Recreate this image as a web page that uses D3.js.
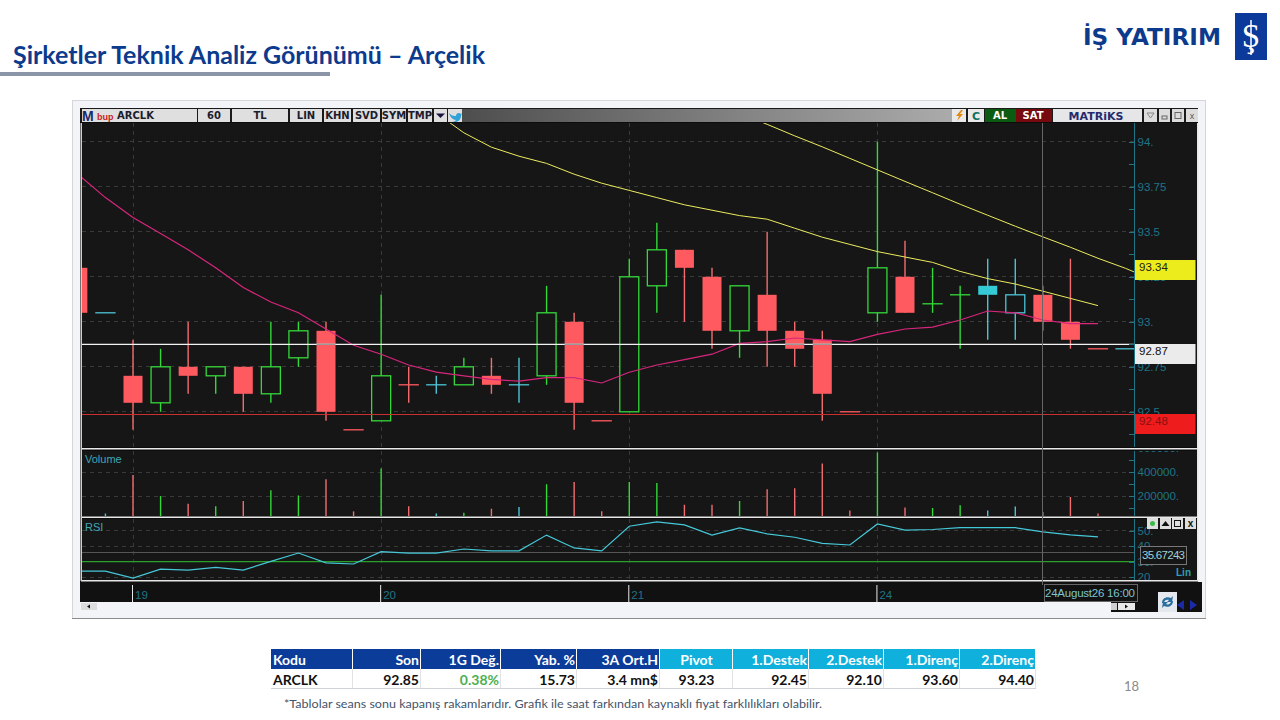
<!DOCTYPE html>
<html>
<head>
<meta charset="utf-8">
<script src="https://d3js.org/d3.v7.min.js"></script>
<style>
  html, body { margin: 0; padding: 0; background: #fff; }
  svg { display: block; }
  text { font-family: "Liberation Sans", sans-serif; }
  .slide { font-family: Lato, sans-serif; }
  .axis path { display: none; }
  .axis line { stroke: #1f7486; shape-rendering: crispEdges; }
  .axis text { fill: #1f7486; font: 11.5px "Liberation Sans", sans-serif; }
  .grid { stroke: #3a3a3a; stroke-width: 1; stroke-dasharray: 4 4; shape-rendering: crispEdges; }
  .wick, .vol { stroke-width: 1.4; }
  .tool { font: bold 10px "DejaVu Sans", sans-serif; fill: #1c1c2c; text-anchor: middle; }
</style>
</head>
<body>
<script>
// bar index, -2 and -1 belong to the previous session
var bars = d3.range(-2, 37);
var kinds = ['r','c','r','g','r','g','r','g','g','r','r','g','r','c','g','r','c','g','r','r','g','g','r','r','g','r','r','r','r','g','r','g','g','cf','c','r','r','r','c'];
var opens = [93.3,93.05,92.7,92.55,92.75,92.7,92.75,92.6,92.8,92.95,92.4,92.45,92.65,92.65,92.65,92.7,92.65,92.7,93,92.45,92.5,93.2,93.4,93.25,92.95,93.15,92.95,92.9,92.5,93.05,93.25,93.1,93.15,93.15,93.05,93.15,93,92.85,92.85];
var closes = [93.05,93.05,92.55,92.75,92.7,92.75,92.6,92.75,92.95,92.5,92.4,92.7,92.65,92.65,92.75,92.65,92.65,93.05,92.55,92.45,93.25,93.4,93.3,92.95,93.2,92.95,92.85,92.6,92.5,93.3,93.05,93.1,93.15,93.2,93.15,93,92.9,92.85,92.85];
var highs = [93.3,93.05,92.9,92.85,93,92.75,92.75,93,93,93,92.4,93.15,92.75,92.7,92.8,92.8,92.8,93.2,93.05,92.45,93.35,93.55,93.4,93.3,93.2,93.5,93,92.95,92.5,94,93.45,93.3,93.2,93.35,93.35,93.2,93.35,92.85,92.85];
var lows = [93.05,93.05,92.4,92.5,92.6,92.6,92.5,92.55,92.75,92.45,92.4,92.45,92.55,92.6,92.65,92.6,92.55,92.65,92.4,92.45,92.5,93.05,93,92.85,92.8,92.75,92.75,92.45,92.5,93,93.05,93.05,92.85,92.9,92.9,92.95,92.85,92.85,92.85];
var volumes = [0,54000,375000,200000,135000,115000,158000,247000,205000,340000,72000,430000,115000,55000,60000,93000,108000,297000,317000,72000,317000,308000,128000,128000,158000,256000,264000,470000,80000,563000,105000,100000,122000,80000,113000,67000,192000,54000,0];
var rsi = [23.8,23.8,19.3,25.1,24.5,26.2,24.5,30.1,35.5,29.1,28.4,36.4,35.5,35.5,38.1,36.9,36.9,47.1,38.8,36.9,52.8,55.7,53.7,47.1,51.7,47.9,45.7,41.8,40.7,54.3,50.3,50.7,51.9,51.9,51.9,49.2,47.2,45.9];
var maPink = [93.82,93.69,93.58,93.49,93.4,93.3,93.19,93.11,93.05,92.96,92.87,92.82,92.76,92.72,92.7,92.68,92.67,92.69,92.69,92.66,92.72,92.76,92.79,92.82,92.88,92.89,92.91,92.9,92.89,92.93,92.96,92.97,93.01,93.06,93.05,93.01,92.99,92.99];
var maYellow1 = [94.16,94.05,93.97,93.92,93.88,93.82,93.77,93.73,93.69,93.65,93.62,93.59,93.57,93.52,93.47,93.43,93.39,93.36,93.33,93.28,93.24,93.21,93.17,93.13,93.09];
var maYellow1Start = 11;
var maYellow2 = [94.158,94.097,94.033,93.972,93.908,93.844,93.78,93.717,93.653,93.592,93.531,93.472,93.414,93.353,93.297,93.233];
var maYellow2Start = 22;

var dayBars = [0, 9, 18, 27];
var dayLabels = ['19', '20', '21', '24'];
var priceTicks = [94, 93.75, 93.5, 93.25, 93, 92.75, 92.5];
var priceLabels = ['94.', '93.75', '93.5', '93.25', '93.', '92.75', '92.5'];
var priceMinor = [93.875, 93.625, 93.375, 93.125, 92.875, 92.625, 92.375];
var volumeTicks = [600000, 400000, 200000];
var volumeMinor = [500000, 300000, 100000];
var rsiTicks = [50, 40, 30, 20];
var lastPrices = [93.34, 92.87, 92.48];
var whiteLevel = 92.875, redLevel = 92.485, rsiLevel = 35.67243, rsiFloor = 30;
var crossBar = 33;

var tableHead = ['Kodu', 'Son', '1G Değ.', 'Yab. %', '3A Ort.H', 'Pivot', '1.Destek', '2.Destek', '1.Direnç', '2.Direnç'];
var tableRow = ['ARCLK', '92.85', '0.38%', '15.73', '3.4 mn$', '93.23', '92.45', '92.10', '93.60', '94.40'];
var tableEdges = [271, 353, 421, 501, 577, 660, 733, 809, 884, 960, 1036];

var colors = { r: '#ff5a60', g: '#35d83a', c: '#4cc4d6', cf: '#35cbd6' };
var wickColors = { r: '#f26d70', g: '#35d83a', c: '#4cc4d6', cf: '#4cc4d6' };

var svg = d3.select('body').append('svg').attr('width', 1280).attr('height', 720);

// slide header
svg.append('text').attr('class', 'slide').attr('x', 13).attr('y', 64)
  .attr('font-size', 24.5).attr('font-weight', 700).attr('fill', '#0c3a8c')
  .attr('textLength', 472).attr('lengthAdjust', 'spacingAndGlyphs')
  .text('Şirketler Teknik Analiz Görünümü – Arçelik');
svg.append('rect').attr('x', 0).attr('y', 72).attr('width', 330).attr('height', 4).attr('fill', '#8a95a8');

// logo
svg.append('text').attr('x', 1083).attr('y', 45).attr('font-size', 23).attr('font-weight', 700)
  .attr('fill', '#0c3a8c').style('font-family', '"DejaVu Sans", sans-serif')
  .attr('textLength', 138).attr('lengthAdjust', 'spacingAndGlyphs').text('İŞ YATIRIM');
svg.append('rect').attr('x', 1235).attr('y', 13).attr('width', 32).attr('height', 47).attr('fill', '#0c3a9a');
svg.append('text').attr('x', 1251).attr('y', 47).attr('text-anchor', 'middle')
  .attr('font-size', 33).attr('fill', '#fff').style('font-family', '"Liberation Serif", serif').text('Ş');
svg.append('line').attr('x1', 1251).attr('x2', 1251).attr('y1', 20).attr('y2', 55).attr('stroke', '#fff').attr('stroke-width', 1.5);

// program window
svg.append('rect').attr('x', 72.5).attr('y', 100.5).attr('width', 1133).attr('height', 518)
  .attr('fill', '#f3f4f7').attr('stroke', '#d4d6da');
svg.append('line').attr('x1', 72).attr('x2', 1206).attr('y1', 618.5).attr('y2', 618.5).attr('stroke', '#8c8c8c');
svg.append('rect').attr('x', 80).attr('y', 108).attr('width', 1118).attr('height', 16).attr('fill', '#1a1a1a');
var toolGrad = svg.append('defs').append('linearGradient').attr('id', 'toolbar');
toolGrad.append('stop').attr('offset', '0%').attr('stop-color', '#4e4e4e');
toolGrad.append('stop').attr('offset', '100%').attr('stop-color', '#ababab');
svg.append('rect').attr('x', 462).attr('y', 109).attr('width', 490).attr('height', 13).attr('fill', 'url(#toolbar)');

var toolCells = [[82, 115, ''], [115, 197, ''], [198, 230, '60'], [232, 288, 'TL'], [290, 322, 'LIN'], [324, 351, 'KHN'], [353, 380, 'SVD'], [382, 406, 'SYM'], [408, 432, 'TMP'], [434, 447, ''], [448, 462, '']];
toolCells.forEach(function(c) {
  svg.append('rect').attr('x', c[0]).attr('y', 109).attr('width', c[1] - c[0]).attr('height', 13).attr('fill', '#dfdfdf');
  svg.append('text').attr('class', 'tool').attr('x', (c[0] + c[1]) / 2).attr('y', 119).text(c[2]);
});
svg.append('text').attr('x', 82).attr('y', 120.5).attr('font-size', 14).attr('font-weight', 700).attr('fill', '#1a2a6c').text('M');
svg.append('text').attr('x', 97).attr('y', 119.5).attr('font-size', 9).attr('font-weight', 700).attr('fill', '#c22').text('bup');
svg.append('text').attr('class', 'tool').attr('x', 117).attr('y', 119).style('text-anchor', 'start').text('ARCLK');
svg.append('path').attr('d', 'M436,113.5h9l-4.5,4.5z').attr('fill', '#151540');
svg.append('path').attr('d', 'M449,113c3,3 5,3 7,3c0,-3 3,-4 5,-2l1,-1l-1,3c0,4 -4,7 -9,6c2,0 3,-1 4,-2c-3,0 -6,-3 -7,-7z').attr('fill', '#2fa3d8');

var rightCells = [[952, 966, '#e9e9e9'], [968, 984, '#e9e9e9'], [985, 1016, '#0b5c12'], [1016, 1052, '#760a0e'], [1053, 1142, '#e6e6e8'], [1144, 1157, '#dcdcdc'], [1159, 1170, '#dcdcdc'], [1172, 1184, '#dcdcdc'], [1186, 1198, '#dcdcdc']];
rightCells.forEach(function(c) {
  svg.append('rect').attr('x', c[0]).attr('y', 109).attr('width', c[1] - c[0]).attr('height', 13).attr('fill', c[2]);
});
svg.append('path').attr('d', 'M961,110l-5,6h3l-2,5l6,-7h-3l3,-4z').attr('fill', '#e08a10');
svg.append('text').attr('class', 'tool').attr('x', 976).attr('y', 120).style('fill', '#0f7060').style('font-size', '11px').text('C');
svg.append('text').attr('class', 'tool').attr('x', 1000).attr('y', 119).style('fill', '#fff').text('AL');
svg.append('text').attr('class', 'tool').attr('x', 1033).attr('y', 119).style('fill', '#fff').text('SAT');
svg.append('text').attr('class', 'tool').attr('x', 1096).attr('y', 119.5).style('fill', '#232a6e').style('font-size', '11px').text('MATRiKS');
svg.append('path').attr('d', 'M1147,113h7l-3.5,5z').attr('fill', 'none').attr('stroke', '#888');
svg.append('rect').attr('x', 1162).attr('y', 116).attr('width', 5).attr('height', 3).attr('fill', 'none').attr('stroke', '#666');
svg.append('rect').attr('x', 1175).attr('y', 112.5).attr('width', 6).attr('height', 6).attr('fill', 'none').attr('stroke', '#666');
svg.append('text').attr('x', 1192).attr('y', 119).attr('text-anchor', 'middle').attr('font-size', 9).attr('fill', '#555').text('x');

// panels
var left = 82, right = 1197, axisX = 1134.5;
var panels = { price: [123, 447], volume: [451, 516], rsi: [519, 580] };
var panelKeys = Object.keys(panels);
svg.append('rect').attr('x', 80).attr('y', 122).attr('width', 1118).attr('height', 460).attr('fill', '#0c0c0c');
panelKeys.forEach(function(key) {
  var p = panels[key];
  svg.append('rect').attr('x', left).attr('y', p[0]).attr('width', right - left).attr('height', p[1] - p[0]).attr('fill', '#161616');
  svg.append('clipPath').attr('id', 'clip-' + key).append('rect')
    .attr('x', left).attr('y', p[0]).attr('width', axisX - left).attr('height', p[1] - p[0]);
});
svg.append('rect').attr('x', 81).attr('y', 448).attr('width', 1117).attr('height', 1.5).attr('fill', '#e8e8e8');
svg.append('rect').attr('x', 81).attr('y', 516.5).attr('width', 1117).attr('height', 1.5).attr('fill', '#e8e8e8');
svg.append('rect').attr('x', 81).attr('y', 580).attr('width', 1117).attr('height', 1.5).attr('fill', '#e8e8e8');
svg.append('rect').attr('x', 80.5).attr('y', 123).attr('width', 1.5).attr('height', 458).attr('fill', '#cfcfcf');
svg.append('rect').attr('x', 1197).attr('y', 123).attr('width', 1.5).attr('height', 458).attr('fill', '#e8e8e8');

var x = d3.scaleLinear().domain([0, 35]).range([133, 1098]);
var y = d3.scaleLinear().domain([92.5, 94]).range([411.8, 141.8]);
var yVol = d3.scaleLinear().domain([0, 400000]).range([520, 472]);
var yRsi = d3.scaleLinear().domain([20, 50]).range([577, 530.6]);

var pricePlot = svg.append('g').attr('clip-path', 'url(#clip-price)');
var volumePlot = svg.append('g').attr('clip-path', 'url(#clip-volume)');
var rsiPlot = svg.append('g').attr('clip-path', 'url(#clip-rsi)');

// grids
function grid(plot, scale, ticks, panel) {
  plot.selectAll('.h').data(ticks).enter().append('line').attr('class', 'grid h')
    .attr('x1', left).attr('x2', axisX)
    .attr('y1', function(d) { return scale(d); }).attr('y2', function(d) { return scale(d); });
  plot.selectAll('.v').data(dayBars).enter().append('line').attr('class', 'grid v')
    .attr('x1', function(d) { return x(d); }).attr('x2', function(d) { return x(d); })
    .attr('y1', panel[0]).attr('y2', panel[1]);
}
grid(pricePlot, y, priceTicks, panels.price);
grid(volumePlot, yVol, [400000, 200000], panels.volume);
grid(rsiPlot, yRsi, [50, 40, 20], panels.rsi);

// candles
var halfBody = 9.5;
var candles = bars.map(function(b, i) {
  return { bar: b, kind: kinds[i], open: opens[i], close: closes[i], high: highs[i], low: lows[i] };
});
pricePlot.selectAll('.wick').data(candles).enter().append('line').attr('class', 'wick')
  .attr('x1', function(d) { return x(d.bar); }).attr('x2', function(d) { return x(d.bar); })
  .attr('y1', function(d) { return y(d.high); }).attr('y2', function(d) { return y(d.low); })
  .attr('stroke', function(d) { return wickColors[d.kind]; });
pricePlot.selectAll('.body').data(candles).enter().append('rect').attr('class', 'body')
  .attr('x', function(d) { return x(d.bar) - halfBody; })
  .attr('width', halfBody * 2)
  .attr('y', function(d) { return y(Math.max(d.open, d.close)); })
  .attr('height', function(d) { return Math.max(0.01, Math.abs(y(d.open) - y(d.close))); })
  .attr('fill', function(d) { return d.kind == 'g' || d.kind == 'c' ? '#161616' : colors[d.kind]; })
  .attr('stroke', function(d) { return colors[d.kind]; })
  .attr('stroke-width', function(d) { return d.kind == 'g' || d.kind == 'c' || d.open == d.close ? 1.3 : 0; });

// moving averages
function maLine(scaleY, start) {
  return d3.line().x(function(d, i) { return x(start + i); }).y(function(d) { return scaleY(d); });
}
pricePlot.append('path').datum(maPink).attr('d', maLine(y, -2)).attr('fill', 'none').attr('stroke', '#d8267c').attr('stroke-width', 1.2);
pricePlot.append('path').datum(maYellow1).attr('d', maLine(y, maYellow1Start)).attr('fill', 'none').attr('stroke', '#ecec60').attr('stroke-width', 1);
pricePlot.append('path').datum(maYellow2).attr('d', maLine(y, maYellow2Start)).attr('fill', 'none').attr('stroke', '#ecec60').attr('stroke-width', 1);

// price levels
pricePlot.append('line').attr('x1', left).attr('x2', axisX).attr('y1', y(whiteLevel)).attr('y2', y(whiteLevel)).attr('stroke', '#f2f2f2').attr('stroke-width', 1.3);
pricePlot.append('line').attr('x1', left).attr('x2', axisX).attr('y1', y(redLevel)).attr('y2', y(redLevel)).attr('stroke', '#c83030').attr('stroke-width', 1.2);
// red bodies turn the white level grey where they cross it
pricePlot.selectAll('.cross').data(candles.filter(function(d) {
  return d.kind == 'r' && d.open > whiteLevel && d.close < whiteLevel;
})).enter().append('line').attr('class', 'cross')
  .attr('x1', function(d) { return x(d.bar) - halfBody; }).attr('x2', function(d) { return x(d.bar) + halfBody; })
  .attr('y1', y(whiteLevel)).attr('y2', y(whiteLevel)).attr('stroke', '#9a9a9a').attr('stroke-width', 1.5);

// volume
volumePlot.selectAll('.vol').data(candles).enter().append('line').attr('class', 'vol')
  .attr('x1', function(d) { return x(d.bar); }).attr('x2', function(d) { return x(d.bar); })
  .attr('y1', function(d, i) { return yVol(volumes[i]); }).attr('y2', yVol(0))
  .attr('stroke', function(d, i) { return volumes[i] ? wickColors[d.kind] : 'none'; });

// rsi
rsiPlot.append('line').attr('x1', left).attr('x2', axisX).attr('y1', yRsi(rsiLevel)).attr('y2', yRsi(rsiLevel)).attr('stroke', '#555').style('shape-rendering', 'crispEdges');
rsiPlot.append('line').attr('x1', left).attr('x2', axisX).attr('y1', yRsi(rsiFloor)).attr('y2', yRsi(rsiFloor)).attr('stroke', '#2aa02a').attr('stroke-width', 1.2);
rsiPlot.append('path').datum(rsi).attr('d', maLine(yRsi, -2)).attr('fill', 'none').attr('stroke', '#45c8d8').attr('stroke-width', 1.2);

svg.append('text').attr('x', 85).attr('y', 463).attr('font-size', 11).attr('fill', '#3fa6b4').text('Volume');
svg.append('text').attr('x', 85).attr('y', 531).attr('font-size', 11).attr('fill', '#3fa6b4').text('RSI');

// axes
function labelAxis(scale, ticks, format, panelKey) {
  return svg.append('g').attr('class', 'axis').attr('transform', 'translate(' + axisX + ',0)')
    .attr('clip-path', 'url(#axis-' + panelKey + ')')
    .call(d3.axisRight(scale).tickValues(ticks).tickSizeInner(-6).tickSizeOuter(0).tickPadding(3).tickFormat(format));
}
panelKeys.forEach(function(key) {
  var p = panels[key];
  svg.append('clipPath').attr('id', 'axis-' + key).append('rect')
    .attr('x', -10).attr('y', p[0]).attr('width', 70).attr('height', p[1] - p[0]);
  svg.append('line').attr('x1', axisX).attr('x2', axisX).attr('y1', p[0]).attr('y2', p[1]).attr('stroke', '#1f7486');
});
labelAxis(y, priceTicks, function(d) { return priceLabels[priceTicks.indexOf(d)]; }, 'price');
labelAxis(y, priceMinor, function() { return ''; }, 'price');
labelAxis(yVol, volumeTicks, function(d) { return d + '.'; }, 'volume');
labelAxis(yVol, volumeMinor, function() { return ''; }, 'volume');
labelAxis(yRsi, rsiTicks, function(d) { return d + '.'; }, 'rsi');

// last price boxes
var boxFill = ['#ecec1c', '#ebebeb', '#ee1c1c'];
var boxText = ['#222', '#111', '#8a1010'];
var boxTop = [260, 344, 414];
svg.selectAll('.lastBox').data(lastPrices).enter().append('rect').attr('class', 'lastBox')
  .attr('x', axisX + 0.5).attr('width', 60.5).attr('height', 20)
  .attr('y', function(d, i) { return boxTop[i]; })
  .attr('fill', function(d, i) { return boxFill[i]; });
svg.selectAll('.lastText').data(lastPrices).enter().append('text').attr('class', 'lastText')
  .attr('x', 1139).attr('y', function(d, i) { return boxTop[i] + 11; })
  .attr('font-size', 11.5).attr('fill', function(d, i) { return boxText[i]; })
  .text(function(d) { return d3.format('.2f')(d); });

// rsi value box and panel buttons
svg.append('rect').attr('x', 1140.5).attr('y', 546.5).attr('width', 46).attr('height', 18).attr('fill', '#161616').attr('stroke', '#777');
svg.append('text').attr('x', 1142).attr('y', 559).attr('font-size', 11.5).attr('fill', '#9fd0d8').attr('textLength', 43).text(rsiLevel);
svg.append('text').attr('x', 1176).attr('y', 576).attr('font-size', 10).attr('font-weight', 700).attr('fill', '#2fa0b4').text('Lin');
[1147, 1160, 1172, 1185].forEach(function(bx) {
  svg.append('rect').attr('x', bx).attr('y', 518).attr('width', 11).attr('height', 11).attr('fill', '#dedede');
});
svg.append('circle').attr('cx', 1152.5).attr('cy', 523.5).attr('r', 2.5).attr('fill', '#3cba4a');
svg.append('path').attr('d', 'M1161.5,526l4,-5l4,5z').attr('fill', '#111');
svg.append('rect').attr('x', 1174.5).attr('y', 520.5).attr('width', 6).attr('height', 6).attr('fill', 'none').attr('stroke', '#111');
svg.append('text').attr('x', 1190.5).attr('y', 527).attr('text-anchor', 'middle').attr('font-size', 10).attr('font-weight', 700).attr('fill', '#111').text('x');

// date strip
svg.append('rect').attr('x', 80).attr('y', 582).attr('width', 1122).attr('height', 20).attr('fill', '#111');
svg.append('rect').attr('x', 1111).attr('y', 602).attr('width', 91).attr('height', 10).attr('fill', '#111');
svg.selectAll('.dayTick').data(dayBars).enter().append('line').attr('class', 'dayTick')
  .attr('x1', function(d) { return x(d) - 0.5; }).attr('x2', function(d) { return x(d) - 0.5; })
  .attr('y1', 585).attr('y2', 602).attr('stroke', '#e8e8e8');
svg.selectAll('.dayText').data(dayBars).enter().append('text').attr('class', 'dayText')
  .attr('x', function(d) { return x(d) + 2; }).attr('y', 599).attr('font-size', 11.5).attr('fill', '#1f7486')
  .text(function(d, i) { return dayLabels[i]; });

// crosshair
svg.append('line').attr('x1', x(crossBar)).attr('x2', x(crossBar)).attr('y1', 123).attr('y2', 585).attr('stroke', '#666').attr('stroke-width', 1).style('shape-rendering', 'crispEdges');
svg.append('rect').attr('x', 1044.5).attr('y', 584.5).attr('width', 93).attr('height', 17).attr('fill', '#111').attr('stroke', '#666');
svg.append('text').attr('x', 1045).attr('y', 597).attr('font-size', 11.5).attr('fill', '#7fc4cf').attr('textLength', 90).text('24August26 16:00');

// scroll buttons
svg.append('rect').attr('x', 81).attr('y', 603).attr('width', 16).attr('height', 7).attr('fill', '#dcdcdc');
svg.append('path').attr('d', 'M87,606.5l3,-2v4z').attr('fill', '#111');
svg.append('rect').attr('x', 1111).attr('y', 603).attr('width', 6).attr('height', 7).attr('fill', '#cfcfcf');
svg.append('rect').attr('x', 1118).attr('y', 603).attr('width', 17).attr('height', 7).attr('fill', '#e8e8e8');
svg.append('path').attr('d', 'M1128,606.5l-3,-2v4z').attr('fill', '#111');
svg.append('rect').attr('x', 1158).attr('y', 592).attr('width', 19).attr('height', 20).attr('fill', '#e4e8ee');
svg.append('path').attr('d', 'M1162,603c0,-5 5,-7 9,-5l2,-2l-1,6h-5l2,-2c-2,-1 -5,0 -5,3zM1173,601c0,5 -5,7 -9,5l-2,2l1,-6h5l-2,2c2,1 5,0 5,-3z').attr('fill', '#2a6ea0');
svg.append('path').attr('d', 'M1177,605l7,-5v10zM1197,605l-7,-5v10z').attr('fill', '#1a2aa8');

// table
var tableG = svg.append('g');
tableHead.forEach(function(h, i) {
  var x0 = tableEdges[i], x1 = tableEdges[i + 1];
  var anchor = i == 0 ? 'start' : (i == 5 ? 'middle' : 'end');
  var tx = i == 0 ? x0 + 2 : (i == 5 ? (x0 + x1) / 2 : x1 - 2);
  tableG.append('rect').attr('x', x0).attr('y', 649).attr('width', x1 - x0 - 1).attr('height', 20).attr('fill', i < 5 ? '#0b3c9a' : '#0fb0dc');
  tableG.append('text').attr('class', 'slide').attr('x', tx).attr('y', 665).attr('text-anchor', anchor)
    .attr('font-size', 14).attr('font-weight', 700).attr('fill', '#fff').text(h);
  tableG.append('text').attr('class', 'slide').attr('x', tx).attr('y', 685).attr('text-anchor', anchor)
    .attr('font-size', 14).attr('font-weight', 700).attr('fill', i == 2 ? '#4caf50' : '#111').text(tableRow[i]);
  tableG.append('line').attr('x1', x1 - 0.5).attr('x2', x1 - 0.5).attr('y1', 669).attr('y2', 688).attr('stroke', '#e2e2e2');
});
tableG.append('line').attr('x1', 271).attr('x2', 1036).attr('y1', 688.5).attr('y2', 688.5).attr('stroke', '#cfd2d6');

svg.append('text').attr('class', 'slide').attr('x', 284).attr('y', 708).attr('font-size', 11.5).attr('fill', '#44546a')
  .attr('textLength', 538).attr('lengthAdjust', 'spacingAndGlyphs')
  .text('*Tablolar seans sonu kapanış rakamlarıdır. Grafik ile saat farkından kaynaklı fiyat farklılıkları olabilir.');
svg.append('text').attr('class', 'slide').attr('x', 1124).attr('y', 691).attr('font-size', 13).attr('fill', '#8a8a8a').text('18');
</script>
</body>
</html>
